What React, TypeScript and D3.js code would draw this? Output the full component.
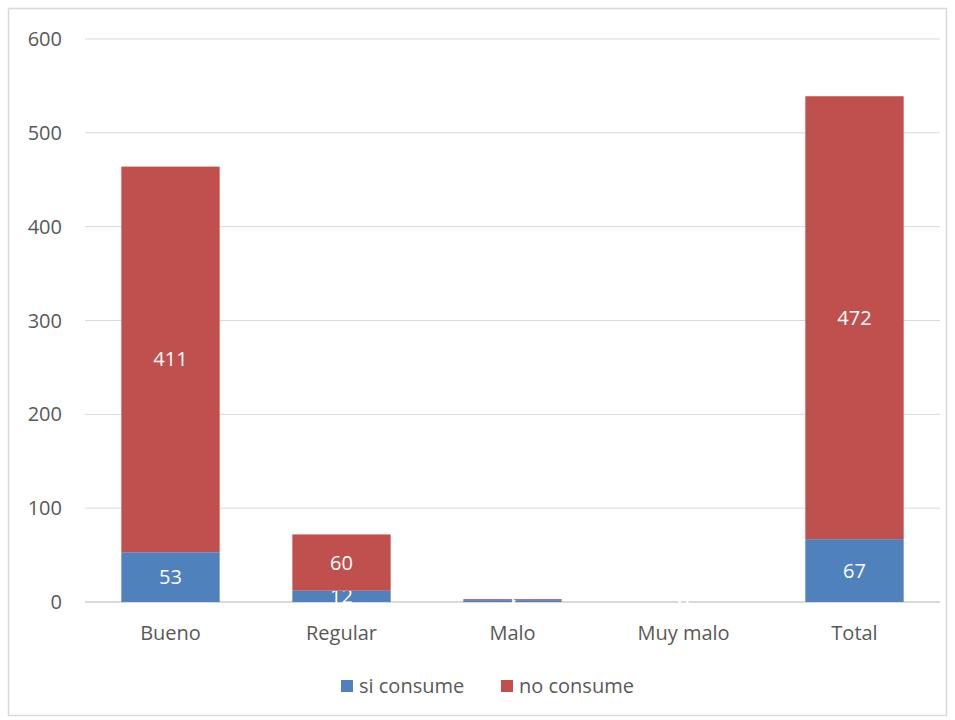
import React from "react";
import * as d3 from "d3";

const categories = ["Bueno", "Regular", "Malo", "Muy malo", "Total"];
const siConsume = [53, 12, 2, 0, 67];
const noConsume = [411, 60, 1, 0, 472];
const yTicks = [0, 100, 200, 300, 400, 500, 600];
const seriesNames = ["si consume", "no consume"];
const colors = ["#4f81bd", "#c0504d"];

export default function App() {
  const W = 955, H = 720;
  const left = 85, right = 940, top = 39, bottom = 602;
  const x = d3.scaleBand().domain(categories).range([left, right]).paddingInner(0.425).paddingOuter(0.2125);
  const y = d3.scaleLinear().domain([0, 600]).range([bottom, top]);
  const font = "'Open Sans', sans-serif";
  const fs = 20;
  const stack = d3.stack<any>().keys(["si", "no"])(
    categories.map((c, i) => ({ cat: c, si: siConsume[i], no: noConsume[i] }))
  );
  return (
    <svg width={W} height={H} style={{ position: "absolute", left: 0, top: 0 }} fontFamily={font}>
      <rect x={0} y={0} width={W} height={H} fill="#fff" />
      <rect x={8.5} y={8.5} width={938} height={707} fill="#fff" stroke="#d9d9d9" strokeWidth={1.5} />
      {yTicks.map((t) => (
        <g key={t}>
          <line x1={left} x2={right} y1={y(t)} y2={y(t)} stroke="#d9d9d9" strokeWidth={t === 0 ? 2 : 1} />
          <text x={62} y={y(t)} dy="0.35em" textAnchor="end" fontSize={fs} fill="#595959">{t}</text>
        </g>
      ))}
      {stack.map((s, si) => (
        <g key={si}>
          {s.map((d, i) => {
            const h = y(d[0]) - y(d[1]);
            const v = d[1] - d[0];
            return (
              <g key={i}>
                {h > 0 && (
                  <rect x={x(categories[i])!} width={x.bandwidth()} y={y(d[1])} height={Math.max(h, 0)} fill={colors[si]} />
                )}
                <text x={x(categories[i])! + x.bandwidth() / 2} y={(y(d[0]) + y(d[1])) / 2} dy="0.35em" textAnchor="middle" fontSize={fs} fill="#fff">{v}</text>
              </g>
            );
          })}
        </g>
      ))}
      {categories.map((c) => (
        <text key={c} x={x(c)! + x.bandwidth() / 2} y={633} dy="0.35em" textAnchor="middle" fontSize={fs} fill="#595959">{c}</text>
      ))}
      <g>
        <rect x={341} y={680} width={12} height={12} fill={colors[0]} />
        <text x={359} y={686} dy="0.35em" fontSize={fs} fill="#595959">{seriesNames[0]}</text>
        <rect x={501} y={680} width={12} height={12} fill={colors[1]} />
        <text x={519} y={686} dy="0.35em" fontSize={fs} fill="#595959">{seriesNames[1]}</text>
      </g>
    </svg>
  );
}
